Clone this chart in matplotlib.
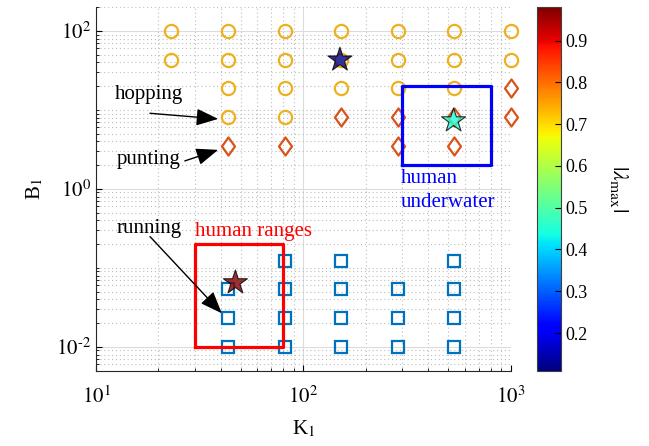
import numpy as np
import matplotlib
matplotlib.use('Agg')
import matplotlib.pyplot as plt
from matplotlib.path import Path
from matplotlib.ticker import LogLocator, NullFormatter, FixedLocator, FuncFormatter
import matplotlib.colors as mcolors
import matplotlib.cm as cm

# --- 字体 ---
plt.rcParams['font.family'] = ['Liberation Serif', 'DejaVu Serif']
plt.rcParams['mathtext.fontset'] = 'stix'
plt.rcParams['font.size'] = 15
plt.rcParams['axes.unicode_minus'] = False

# --- 数据 ---
# hopping: 圆圈
hop_K = [23.1, 43.3, 81.1, 152, 285, 534, 1000,
         23.1, 43.3, 81.1, 152, 285, 534, 1000,
         43.3, 81.1, 152, 285, 534,
         43.3, 81.1]
hop_B = [100, 100, 100, 100, 100, 100, 100,
         43.3, 43.3, 43.3, 43.3, 43.3, 43.3, 43.3,
         18.7, 18.7, 18.7, 18.7, 18.7,
         8.11, 8.11]

# punting: 菱形
punt_K = [1000, 152, 285, 534, 1000, 43.3, 81.1, 285, 534]
punt_B = [18.7, 8.11, 8.11, 8.11, 8.11, 3.51, 3.51, 3.51, 3.51]

# running: 方块
run_K = [81.1, 152, 534,
         43.3, 81.1, 152, 285, 534,
         43.3, 81.1, 152, 285, 534,
         43.3, 81.1, 152, 285, 534]
run_B = [0.123, 0.123, 0.123,
         0.0534, 0.0534, 0.0534, 0.0534, 0.0534,
         0.0231, 0.0231, 0.0231, 0.0231, 0.0231,
         0.01, 0.01, 0.01, 0.01, 0.01]

# 人体数据 (星号) 与 |lambda_max|
star_K = [150, 530, 47]
star_B = [43, 7.3, 0.065]
star_lam = [0.11, 0.45, 0.98]

# 范围框
ranges_K = [30, 80]
ranges_B = [0.01, 0.2]
water_K = [300, 800]
water_B = [2, 20]

lam_lim = [0.11, 0.98]
cbar_ticks = [0.2, 0.3, 0.4, 0.5, 0.6, 0.7, 0.8, 0.9]

# --- 画图 ---
fig = plt.figure(figsize=(6.49, 4.46), dpi=100)
ax = fig.add_axes([0.148, 0.169, 0.639, 0.815])
cax = fig.add_axes([0.827, 0.169, 0.037, 0.815])

ax.set_xscale('log')
ax.set_yscale('log')
ax.set_xlim(10, 1000)
ax.set_ylim(0.005, 200)

# 网格
ax.set_axisbelow(True)
ax.grid(True, which='major', color='#dcdcdc', linestyle='-', linewidth=0.8)
ax.grid(True, which='minor', color='#bdbdbd', linestyle=(0, (1, 2.5)), linewidth=0.8)

diamond = Path([(0, 1), (0.72, 0), (0, -1), (-0.72, 0), (0, 1)],
               [Path.MOVETO, Path.LINETO, Path.LINETO, Path.LINETO, Path.CLOSEPOLY])

ax.plot(hop_K, hop_B, 'o', ms=9.5, mfc='none', mec='#EDB120', mew=1.6, ls='none', clip_on=False)
ax.plot(punt_K, punt_B, marker=diamond, ms=13, mfc='none', mec='#D95319', mew=1.6, ls='none',
        clip_on=False)
ax.plot(run_K, run_B, 's', ms=8.3, mfc='none', mec='#0072BD', mew=1.6, ls='none')

# 范围框
ax.plot([ranges_K[0], ranges_K[1], ranges_K[1], ranges_K[0], ranges_K[0]],
        [ranges_B[0], ranges_B[0], ranges_B[1], ranges_B[1], ranges_B[0]],
        color='#FF0000', lw=2.3)
ax.plot([water_K[0], water_K[1], water_K[1], water_K[0], water_K[0]],
        [water_B[0], water_B[0], water_B[1], water_B[1], water_B[0]],
        color='#0000FF', lw=2.3)

norm = mcolors.Normalize(vmin=lam_lim[0], vmax=lam_lim[1])
ax.scatter(star_K, star_B, c=star_lam, cmap='jet', norm=norm, marker='*', s=330,
           alpha=0.8, edgecolors='k', linewidths=0.8, zorder=10)

# 文字与箭头
ax.text(12.3, 15.6, 'hopping', ha='left', va='center', fontsize=15)
ax.text(12.6, 2.35, 'punting', ha='left', va='center', fontsize=15)
ax.text(12.6, 0.317, 'running', ha='left', va='center', fontsize=15)
ax.text(30, 0.288, 'human ranges', ha='left', va='center', fontsize=15, color='#FF0000')
ax.text(295, 0.95, 'human\nunderwater', ha='left', va='center', fontsize=15,
        color='#0000FF', linespacing=1.4)

arrow_kw = dict(arrowstyle='-|>,head_length=0.9,head_width=0.35', color='k', lw=1.0,
                shrinkA=0, shrinkB=0)
ax.annotate('', xy=(38.8, 7.69), xytext=(18.2, 9.06), arrowprops=arrow_kw)
ax.annotate('', xy=(38.8, 3.12), xytext=(26.8, 2.26), arrowprops=arrow_kw)
ax.annotate('', xy=(40.4, 0.0266), xytext=(18.2, 0.249), arrowprops=arrow_kw)

# 坐标轴
def pow_label(v, p):
    e = int(round(np.log10(v)))
    if e < 0:
        return r'$10^{\text{-}%d}$' % (-e)
    return r'$10^{%d}$' % e

pow_fmt = FuncFormatter(pow_label)
ax.yaxis.set_major_locator(FixedLocator([1e-2, 1, 1e2]))
ax.yaxis.set_major_formatter(pow_fmt)
ax.xaxis.set_major_formatter(pow_fmt)
ax.yaxis.set_minor_locator(LogLocator(base=10, subs=np.arange(1, 10), numticks=20))
ax.yaxis.set_minor_formatter(NullFormatter())
ax.xaxis.set_minor_locator(LogLocator(base=10, subs=np.arange(1, 10), numticks=20))
ax.xaxis.set_minor_formatter(NullFormatter())
ax.tick_params(which='both', direction='in', labelsize=15)
ax.tick_params(which='major', length=4)
ax.tick_params(which='minor', length=2)
ax.tick_params(axis='x', pad=11)
ax.spines['top'].set_visible(False)
ax.spines['right'].set_visible(False)
for s in ['left', 'bottom']:
    ax.spines[s].set_color('#262626')

ax.set_xlabel(r'K$_1$', fontsize=15, labelpad=8)
ax.set_ylabel(r'B$_1$', fontsize=15, labelpad=8)

# 色条
sm = cm.ScalarMappable(norm=norm, cmap='jet')
cb = fig.colorbar(sm, cax=cax, ticks=cbar_ticks)
cb.ax.tick_params(direction='in', length=4, labelsize=13)
cb.outline.set_edgecolor('#404040')
cb.set_label(r'$|\lambda_{\rm max}|$', rotation=270, fontsize=16, labelpad=30)

fig.savefig('out.png', dpi=100)
